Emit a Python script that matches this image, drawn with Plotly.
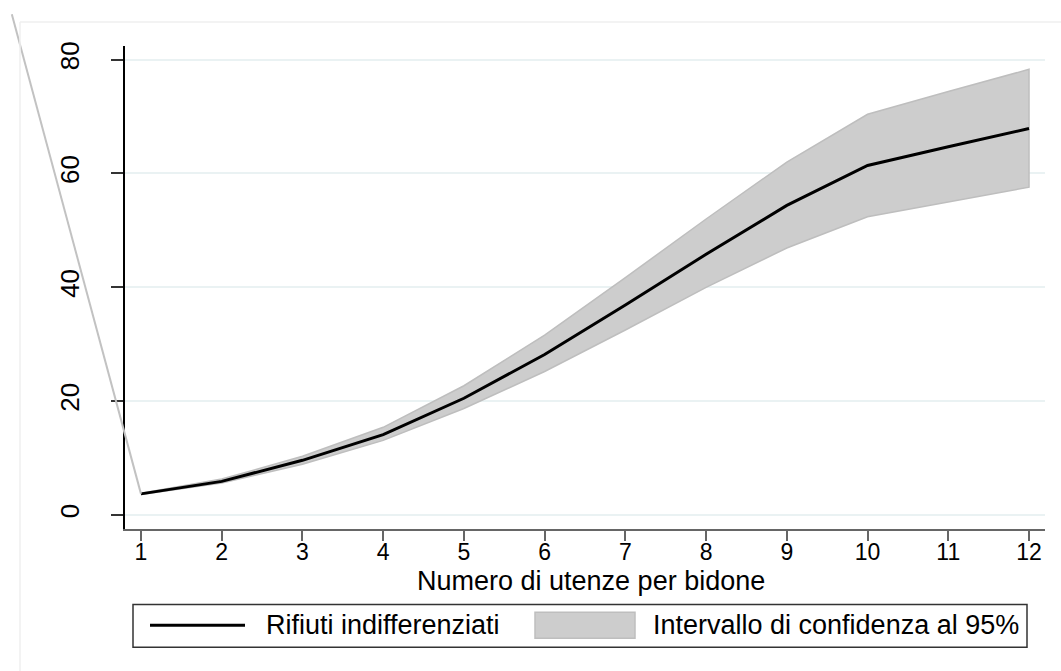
import plotly.graph_objects as go

# ---------------- data ----------------
x_vals = [1, 2, 3, 4, 5, 6, 7, 8, 9, 10, 11, 12]
fitted = [3.7, 5.9, 9.6, 14.1, 20.5, 28.2, 36.9, 45.8, 54.4, 61.4, 64.7, 67.9]
upper = [3.8, 6.3, 10.3, 15.4, 22.7, 31.6, 41.7, 52.0, 62.0, 70.4, 74.4, 78.3]
lower = [3.6, 5.6, 8.9, 13.1, 18.7, 25.2, 32.5, 40.0, 46.9, 52.4, 55.0, 57.6]
# stray outline segment of the band, as it appears in the original
artifact_x = [-0.6, 1]
artifact_y = [88.0, 3.7]
x_ticks = [1, 2, 3, 4, 5, 6, 7, 8, 9, 10, 11, 12]
y_ticks = [0, 20, 40, 60, 80]
line_name = "Rifiuti indifferenziati"
band_name = "Intervallo di confidenza al 95%"
x_title = "Numero di utenze per bidone"

# ---------------- layout geometry ----------------
W, H = 1061, 671
L, R, T, B = 125, 1045, 42, 528
x_range = [0.802, 12.198]
y_range = [-2.445, 82.445]
ppx = (x_range[1] - x_range[0]) / (R - L)
ppy = (y_range[1] - y_range[0]) / (B - T)
x2_range = [x_range[0] - L * ppx, x_range[1] + (W - R) * ppx]
y2_range = [y_range[0] - (H - B) * ppy, y_range[1] + T * ppy]

FONT = "Liberation Sans, Arial, Helvetica, sans-serif"
FS = 27
BAND_FILL = "#cdcdcd"
BAND_LINE = "#bebebe"

fig = go.Figure()

fig.add_trace(go.Scatter(
    x=x_vals + x_vals[::-1], y=upper + lower[::-1],
    fill="toself", fillcolor=BAND_FILL, mode="lines",
    line=dict(color=BAND_LINE, width=1.5), name=band_name,
    showlegend=False, hoverinfo="skip"))
fig.add_trace(go.Scatter(
    x=x_vals, y=fitted, mode="lines",
    line=dict(color="black", width=3), name=line_name, showlegend=False))
fig.add_trace(go.Scatter(
    x=artifact_x, y=artifact_y, mode="lines", xaxis="x2", yaxis="y2",
    line=dict(color="#c2c2c2", width=2), showlegend=False, hoverinfo="skip"))

def px(xp):
    return xp / W

def py(yp):
    return 1 - yp / H

shapes = [
    # faint outer frame
    dict(type="line", xref="paper", yref="paper", x0=px(20), x1=px(20), y0=py(18), y1=py(H + 5),
         line=dict(color="#efefef", width=1.5)),
    dict(type="line", xref="paper", yref="paper", x0=px(20), x1=px(W + 5), y0=py(18), y1=py(18),
         line=dict(color="#efefef", width=1.5)),
    # legend box
    dict(type="rect", xref="paper", yref="paper", x0=px(133), x1=px(1027), y0=py(647), y1=py(604),
         line=dict(color="#333333", width=1.5), fillcolor="white"),
    dict(type="line", xref="paper", yref="paper", x0=px(150), x1=px(245), y0=py(625), y1=py(625),
         line=dict(color="black", width=3)),
    dict(type="rect", xref="paper", yref="paper", x0=px(535), x1=px(635), y0=py(638), y1=py(612),
         line=dict(color=BAND_LINE, width=1.5), fillcolor=BAND_FILL),
]

annotations = [
    dict(text=x_title, xref="paper", yref="paper", x=px(591), y=py(580),
         xanchor="center", yanchor="middle", showarrow=False,
         font=dict(family=FONT, size=FS, color="black")),
    dict(text=line_name, xref="paper", yref="paper", x=px(264), y=py(625),
         xanchor="left", yanchor="middle", showarrow=False,
         font=dict(family=FONT, size=FS, color="black")),
    dict(text=band_name, xref="paper", yref="paper", x=px(651), y=py(625),
         xanchor="left", yanchor="middle", showarrow=False,
         font=dict(family=FONT, size=FS, color="black")),
]

fig.update_layout(
    width=W, height=H,
    margin=dict(l=0, r=0, t=0, b=0),
    paper_bgcolor="white", plot_bgcolor="rgba(0,0,0,0)",
    showlegend=False,
    font=dict(family=FONT, size=FS, color="black"),
    shapes=shapes, annotations=annotations,
    xaxis=dict(
        domain=[L / W, R / W], range=x_range, anchor="y",
        tickmode="array", tickvals=x_ticks, ticktext=[str(v) for v in x_ticks],
        showgrid=False, zeroline=False,
        showline=True, linecolor="#666666", linewidth=1.5,
        ticks="outside", ticklen=10, tickwidth=1.5, tickcolor="#666666",
        ticklabelstandoff=-8,
        tickfont=dict(family=FONT, size=23, color="black"),
    ),
    yaxis=dict(
        domain=[1 - B / H, 1 - T / H], range=y_range, anchor="x",
        tickmode="array", tickvals=y_ticks, ticktext=[str(v) for v in y_ticks],
        tickangle=-90,
        showgrid=True, gridcolor="#eaf2f3", gridwidth=2, zeroline=False,
        showline=True, linecolor="black", linewidth=1.5,
        ticks="outside", ticklen=12, tickwidth=1.5, tickcolor="#333333",
        ticklabelstandoff=22,
        tickfont=dict(family=FONT, size=26, color="black"),
    ),
    xaxis2=dict(domain=[0, 1], range=x2_range, anchor="y2", visible=False, fixedrange=True),
    yaxis2=dict(domain=[0, 1], range=y2_range, anchor="x2", visible=False, fixedrange=True),
)

fig.write_html("out.html")
